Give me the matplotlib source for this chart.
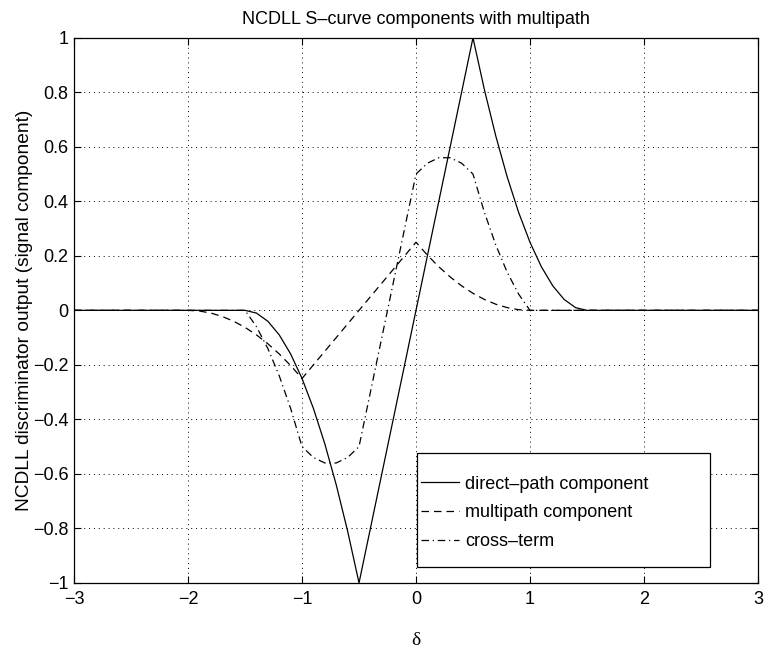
import matplotlib
matplotlib.use("Agg")
import matplotlib.pyplot as plt
from matplotlib.ticker import FuncFormatter
from matplotlib.patches import Rectangle

plt.rcParams['font.family'] = ['Liberation Sans', 'DejaVu Sans']
plt.rcParams['axes.unicode_minus'] = True

# shared delay axis (chips)
delta = [-3.0,
         -2.0, -1.9, -1.8, -1.7, -1.6, -1.5, -1.4, -1.3, -1.2, -1.1,
         -1.0, -0.9, -0.8, -0.7, -0.6, -0.5, -0.4, -0.3, -0.2, -0.1,
         0.0, 0.1, 0.2, 0.3, 0.4, 0.5, 0.6, 0.7, 0.8, 0.9,
         1.0, 1.1, 1.2, 1.3, 1.4, 1.5,
         3.0]

direct_path = [0.0,
               0.0, 0.0, 0.0, 0.0, 0.0, 0.0, -0.01, -0.04, -0.09, -0.16,
               -0.25, -0.36, -0.49, -0.64, -0.81, -1.0, -0.8, -0.6, -0.4, -0.2,
               0.0, 0.2, 0.4, 0.6, 0.8, 1.0, 0.81, 0.64, 0.49, 0.36,
               0.25, 0.16, 0.09, 0.04, 0.01, 0.0,
               0.0]

multipath = [0.0,
             0.0, -0.0025, -0.01, -0.0225, -0.04, -0.0625, -0.09, -0.1225, -0.16, -0.2025,
             -0.25, -0.2, -0.15, -0.1, -0.05, 0.0, 0.05, 0.1, 0.15, 0.2,
             0.25, 0.2025, 0.16, 0.1225, 0.09, 0.0625, 0.04, 0.0225, 0.01, 0.0025,
             0.0, 0.0, 0.0, 0.0, 0.0, 0.0,
             0.0]

cross_term = [0.0,
              0.0, 0.0, 0.0, 0.0, 0.0, 0.0, -0.06, -0.14, -0.24, -0.36,
              -0.5, -0.54, -0.56, -0.56, -0.54, -0.5, -0.3, -0.1, 0.1, 0.3,
              0.5, 0.54, 0.56, 0.56, 0.54, 0.5, 0.36, 0.24, 0.14, 0.06,
              0.0, 0.0, 0.0, 0.0, 0.0, 0.0,
              0.0]

labels = ['direct–path component', 'multipath component', 'cross–term']
xticks = [-3, -2, -1, 0, 1, 2, 3]
yticks = [-1, -0.8, -0.6, -0.4, -0.2, 0, 0.2, 0.4, 0.6, 0.8, 1]

fig = plt.figure(figsize=(7.64, 6.52), dpi=100)
ax = fig.add_axes([0.097, 0.106, 0.895, 0.836])

ax.plot(delta, direct_path, color='black', lw=0.9, linestyle='-', label=labels[0])
ax.plot(delta, multipath, color='black', lw=0.9, linestyle=(0, (6, 4)), label=labels[1])
ax.plot(delta, cross_term, color='black', lw=0.9, linestyle=(0, (6, 3, 1, 3)), label=labels[2])

ax.set_xlim(-3, 3)
ax.set_ylim(-1, 1)
ax.set_xticks(xticks)
ax.set_yticks(yticks)
fmt = FuncFormatter(lambda v, p: ('%g' % v).replace('-', '\u2212'))
ax.xaxis.set_major_formatter(fmt)
ax.yaxis.set_major_formatter(fmt)
ax.tick_params(direction='in', top=True, right=True, length=5, width=0.8,
               labelsize=13)
ax.tick_params(axis='x', pad=6)
ax.tick_params(axis='y', pad=4)
ax.grid(True, color='black', linestyle=(0, (1, 4)), linewidth=0.7)
for s in ax.spines.values():
    s.set_linewidth(0.9)

ax.set_title('NCDLL S–curve components with multipath', fontsize=13, pad=10)
ax.set_xlabel('δ', fontsize=14, labelpad=17,
              family=['Liberation Serif', 'DejaVu Serif'])
ax.set_ylabel('NCDLL discriminator output (signal component)', fontsize=13.8, labelpad=0)

# legend box
ax.add_patch(Rectangle((0.5015, 0.0294), 0.4285, 0.2091, transform=ax.transAxes,
                       facecolor='white', edgecolor='black', lw=0.9, zorder=4))
leg = ax.legend(loc='upper left', bbox_to_anchor=(0.507, 0.1965),
                fontsize=13, frameon=False, handlelength=2.1, handletextpad=0.35,
                borderaxespad=0, borderpad=0, labelspacing=0.64)
leg.set_zorder(5)

fig.savefig('out.png', dpi=100)
